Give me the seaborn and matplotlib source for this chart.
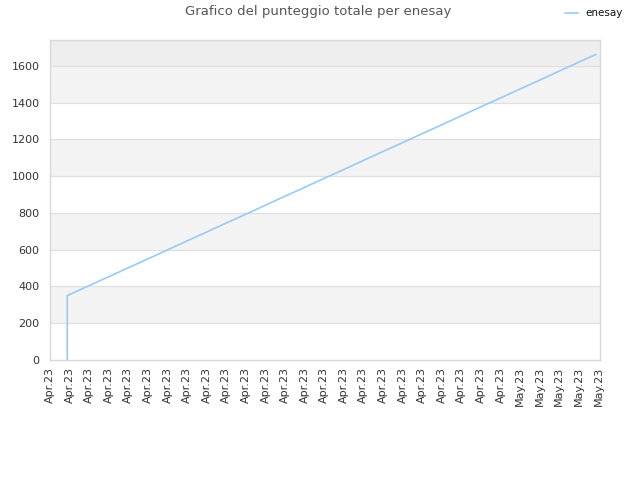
import matplotlib
matplotlib.use("Agg")
import matplotlib.pyplot as plt
import seaborn as sns
import pandas as pd

# Data
tick_labels = ["Apr.23"] * 24 + ["May.23"] * 5
x_index = [0.88, 0.88, 1.88, 2.88, 3.88, 4.88, 5.88, 6.88, 7.88, 8.88, 9.88, 10.88,
           11.88, 12.88, 13.88, 14.88, 15.88, 16.88, 17.88, 18.88, 19.88, 20.88,
           21.88, 22.88, 23.88, 24.88, 25.88, 26.88, 27.88]
scores = [0, 350, 399, 447, 496, 544, 593, 642, 690, 739, 787, 836, 885, 933, 982,
          1030, 1079, 1128, 1176, 1225, 1273, 1322, 1371, 1419, 1468, 1516, 1565,
          1614, 1662]
series_name = "enesay"
title = "Grafico del punteggio totale per enesay"

sns.set_theme(style="white")
plt.rcParams['font.family'] = ['DejaVu Sans']

df = pd.DataFrame({"x": x_index, "score": scores, "player": series_name})

fig = plt.figure(figsize=(6.4, 4.8), dpi=100)
ax = fig.add_axes([50/640, 1 - 360/480, 550/640, 320/480])

ymax = 1740
# alternating bands
for lo in range(0, 1800, 200):
    hi = min(lo + 200, ymax)
    if lo >= 1600:
        ax.axhspan(lo, hi, color="#eeeeee", zorder=0, lw=0)
    elif (lo // 200) % 2 == 1:
        ax.axhspan(lo, hi, color="#f3f3f3", zorder=0, lw=0)
for yv in range(200, 1800, 200):
    ax.axhline(yv, color="#e0e0e0", lw=0.9, zorder=1)

sns.lineplot(data=df, x="x", y="score", hue="player", palette=["#99c9f7"],
             sort=False, estimator=None, lw=1.2, ax=ax, legend=False, zorder=3)

ax.set_xlim(0, 28.08)
ax.set_ylim(0, ymax)
ax.set_xticks(range(len(tick_labels)))
ax.set_xticklabels(tick_labels, rotation=90, fontsize=8, color="#333333")
ax.set_yticks(range(0, 1800, 200))
ax.set_yticklabels([str(v) for v in range(0, 1800, 200)], fontsize=8, color="#333333")
ax.tick_params(axis="y", length=0, pad=7.5)
ax.tick_params(axis="x", length=0, pad=5)
ax.set_xlabel("")
ax.set_ylabel("")
for s in ax.spines.values():
    s.set_color("#d8d8d8")
    s.set_linewidth(1.0)

fig.text(318/640, 1 - 12/480, title, ha="center", va="center", fontsize=9.5, color="#555555")
fig.lines.append(plt.Line2D([565/640, 578/640], [1 - 13/480, 1 - 13/480],
                            transform=fig.transFigure, color="#99c9f7", lw=1.2))
fig.text(585/640, 1 - 13/480, series_name, ha="left", va="center", fontsize=7.5, color="#111111")

fig.savefig("out.png", dpi=100)
